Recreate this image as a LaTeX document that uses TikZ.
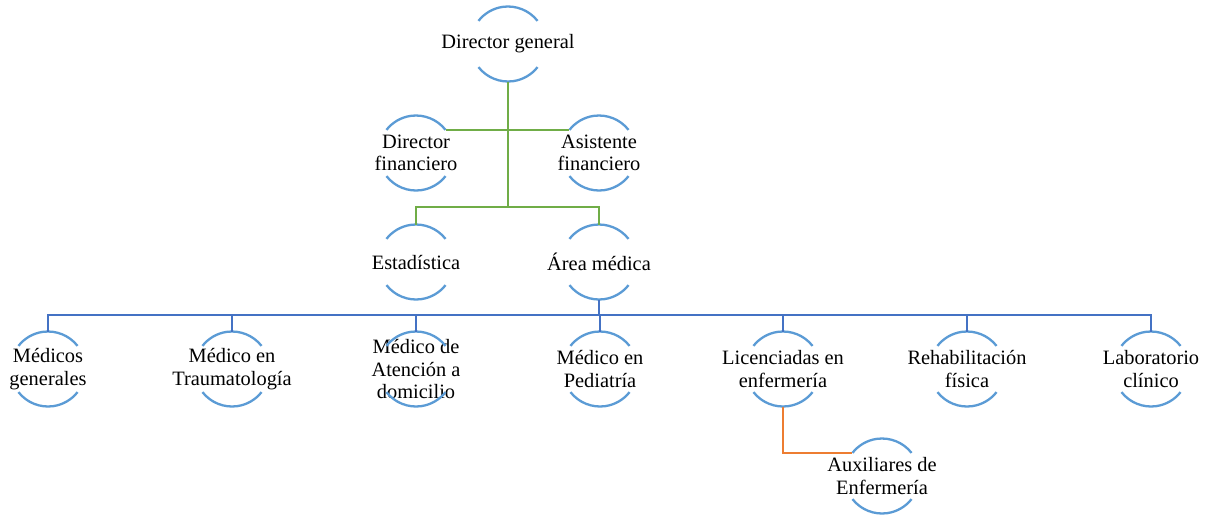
\documentclass[tikz,border=0pt]{standalone}
\usepackage{fontspec}
\setmainfont{Liberation Serif}
\definecolor{arcblue}{RGB}{91,155,213}
\definecolor{lgreen}{RGB}{112,173,71}
\definecolor{dblue}{RGB}{68,114,196}
\definecolor{orng}{RGB}{237,125,49}
\begin{document}
\begin{tikzpicture}[x=1pt,y=1pt,
  lbl/.style={align=center,inner sep=0pt,font=\fontsize{20.4}{22.5}\selectfont},
  arcline/.style={draw=arcblue,line width=2.3pt},
  conn/.style={line width=2.4pt}]
\useasboundingbox (0,0) rectangle (1215,-515);
\def\R{37.5pt}
% nodes
\node[lbl] (dg)   at (508,-44)  {Director general};
\node[lbl] (dfin) at (416,-153) {Director\\financiero};
\node[lbl] (afin) at (599,-153) {Asistente\\financiero};
\node[lbl] (est)  at (416,-262) {Estadística};
\node[lbl] (am)   at (599,-262) {Área médica};
\node[lbl] (m1) at (48,-369)   {Médicos\\generales};
\node[lbl] (m2) at (232,-369)  {Médico en\\Traumatología};
\node[lbl] (m3) at (416,-369)  {Médico de\\Atención a\\domicilio};
\node[lbl] (m4) at (600,-369)  {Médico en\\Pediatría};
\node[lbl] (m5) at (783,-369)  {Licenciadas en\\enfermería};
\node[lbl] (m6) at (967,-369)  {Rehabilitación\\física};
\node[lbl] (m7) at (1151,-369) {Laboratorio\\clínico};
\node[lbl] (aux) at (882,-476) {Auxiliares de\\Enfermería};
% arcs and named top / bottom / arc-end points
\foreach \n in {dg,dfin,afin,est,am,m1,m2,m3,m4,m5,m6,m7,aux}{
  \draw[arcline] ([shift={(38:\R)}]\n.center) arc[start angle=38,end angle=142,radius=\R];
  \draw[arcline] ([shift={(218:\R)}]\n.center) arc[start angle=218,end angle=322,radius=\R];
  \coordinate (\n-t) at ([yshift=\R]\n.center);
  \coordinate (\n-b) at ([yshift=-\R]\n.center);
  \coordinate (\n-tr) at ([shift={(38:\R)}]\n.center);
  \coordinate (\n-tl) at ([shift={(142:\R)}]\n.center);
}
\coordinate (gbus) at (508,-207);
\coordinate (bbus) at (599,-315);
% green connectors
\draw[conn,lgreen] (dg-b) -- (gbus);
\draw[conn,lgreen] (dfin-tr) -- (afin-tl);
\draw[conn,lgreen] (est-t) -- (est-t |- gbus) -- (am-t |- gbus) -- (am-t);
% blue connectors
\draw[conn,dblue] (am-b) -- (bbus);
\draw[conn,dblue] (m1-t) -- (m1-t |- bbus) -- (m7-t |- bbus) -- (m7-t);
\foreach \n in {m2,m3,m4,m5,m6}{
  \draw[conn,dblue] (\n-t |- bbus) -- (\n-t);
}
% orange connector
\draw[conn,orng] (m5-b) |- (aux-tl);
\end{tikzpicture}
\end{document}
